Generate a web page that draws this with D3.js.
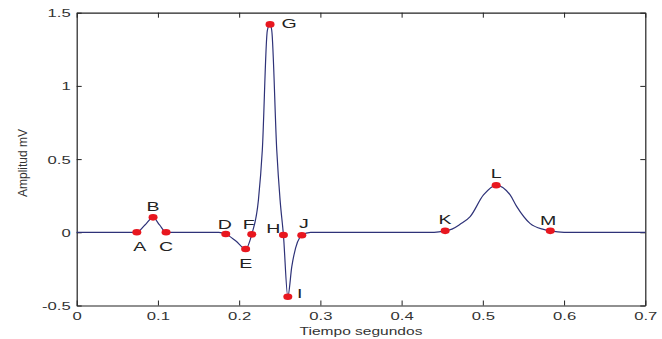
<!DOCTYPE html>
<html>
<head>
<meta charset="utf-8">
<script src="https://cdn.jsdelivr.net/npm/d3@7"></script>
<style>
  html, body { margin: 0; padding: 0; background: #fff; }
  svg { display: block; font-family: "Liberation Sans", Arial, sans-serif; }
</style>
</head>
<body>
<div id="chart"></div>
<script>
// ECG trace (seconds, mV)
const timeS = [0, 0.060, 0.074, 0.084, 0.094, 0.102, 0.110, 0.122, 0.175, 0.1835, 0.196, 0.208, 0.2155,
  0.2237, 0.2285, 0.2347, 0.238, 0.2401, 0.2463, 0.2504, 0.2545, 0.2599, 0.2648, 0.2771, 0.288,
  0.440, 0.4536, 0.462, 0.472, 0.4844, 0.5008, 0.5164, 0.5336, 0.5418, 0.558, 0.5747, 0.583, 0.600, 0.700];
const amplitudeMv = [0, 0, 0, 0.05, 0.102, 0.05, 0, 0, 0, -0.012, -0.06, -0.114, -0.014,
  0.22, 0.56, 1.38, 1.42, 1.38, 0.56, 0.22, -0.018, -0.44, -0.235, -0.02, 0,
  0, 0.01, 0.022, 0.055, 0.107, 0.255, 0.321, 0.255, 0.175, 0.061, 0.02, 0.01, 0, 0];

// marked points
const pointLabels = ['A', 'B', 'C', 'D', 'E', 'F', 'G', 'H', 'I', 'J', 'K', 'L', 'M'];
const pointTime = [0.074, 0.094, 0.110, 0.1835, 0.208, 0.2155, 0.238, 0.2545, 0.2599, 0.2771, 0.4536, 0.5164, 0.583];
const pointAmp = [0, 0.102, 0, -0.012, -0.114, -0.014, 1.42, -0.018, -0.44, -0.02, 0.01, 0.321, 0.01];

const xTicks = [0, 0.1, 0.2, 0.3, 0.4, 0.5, 0.6, 0.7];
const yTicks = [-0.5, 0, 0.5, 1, 1.5];

const W = 662, H = 339;
const plotLeft = 76.7, plotRight = 645.3, plotTop = 12.7, plotBottom = 305.5;
const SX = 1.45; // the picture is stretched sideways

const svg = d3.select('#chart').append('svg')
  .attr('width', W).attr('height', H);
svg.append('rect').attr('width', W).attr('height', H).attr('fill', '#fff');

const x = d3.scaleLinear().domain([0, 0.7]).range([plotLeft, plotRight]);
const y = d3.scaleLinear().domain([-0.5, 1.5]).range([plotBottom, plotTop]);

function styleAxis(g) {
  g.selectAll('path.domain').attr('stroke', '#222').attr('stroke-width', 1.2);
  g.selectAll('.tick line').attr('stroke', '#222').attr('stroke-width', 1);
}

// axes (box with inward ticks)
const gx = svg.append('g').attr('transform', `translate(0,${plotBottom})`)
  .call(d3.axisBottom(x).tickValues(xTicks).tickSize(-5).tickSizeOuter(0).tickFormat(d => String(d)))
  .call(styleAxis);
gx.selectAll('.tick text')
  .attr('y', 0).attr('dy', 0)
  .attr('transform', `translate(0,14) scale(${SX},1)`)
  .attr('fill', '#333').style('font-size', '11.5px');

const gy = svg.append('g').attr('transform', `translate(${plotLeft},0)`)
  .call(d3.axisLeft(y).tickValues(yTicks).tickSize(-5).tickSizeOuter(0).tickFormat(d => String(d)))
  .call(styleAxis);
gy.selectAll('.tick text')
  .attr('x', 0).attr('dy', 0)
  .attr('transform', `translate(-6,4) scale(${SX},1)`)
  .attr('fill', '#333').style('font-size', '11.5px');

svg.append('g').attr('transform', `translate(0,${plotTop})`)
  .call(d3.axisTop(x).tickValues(xTicks).tickSize(-5).tickSizeOuter(0).tickFormat(''))
  .call(styleAxis);
svg.append('g').attr('transform', `translate(${plotRight},0)`)
  .call(d3.axisRight(y).tickValues(yTicks).tickSize(-5).tickSizeOuter(0).tickFormat(''))
  .call(styleAxis);

// axis titles
svg.append('text')
  .attr('transform', `translate(${(plotLeft + plotRight) / 2},335) scale(${SX - 0.1},1)`)
  .attr('text-anchor', 'middle')
  .attr('fill', '#333').style('font-size', '11.5px')
  .text('Tiempo segundos');

svg.append('text')
  .attr('transform', 'translate(27,163) rotate(-90)')
  .attr('text-anchor', 'middle')
  .attr('fill', '#333').style('font-size', '12px')
  .text('Amplitud mV');

// trace
const trace = timeS.map((t, i) => [t, amplitudeMv[i]]);
const line = d3.line().x(d => x(d[0])).y(d => y(d[1])).curve(d3.curveMonotoneX);
svg.append('path')
  .datum(trace)
  .attr('d', line)
  .attr('fill', 'none')
  .attr('stroke', '#2e3278')
  .attr('stroke-width', 1.2);

// markers
const points = pointLabels.map((name, i) => ({ name, t: pointTime[i], v: pointAmp[i] }));
svg.selectAll('ellipse.pt')
  .data(points)
  .enter().append('ellipse')
  .attr('class', 'pt')
  .attr('cx', d => x(d.t)).attr('cy', d => y(d.v))
  .attr('rx', 4.5).attr('ry', 3.3)
  .attr('fill', '#e8171f');

// label offsets from each marker, in pixels
const labelOffset = {
  A: [3, 19], B: [0, -6], C: [0, 19], D: [-1, -5], E: [0, 19], F: [-3, -5], G: [19, 4],
  H: [-10, -2], I: [12, 1], J: [2, -7], K: [0, -7], L: [0, -7], M: [-2, -6]
};
svg.selectAll('text.pt-label')
  .data(points)
  .enter().append('text')
  .attr('class', 'pt-label')
  .attr('transform', d => {
    const o = labelOffset[d.name];
    return `translate(${x(d.t) + o[0]},${y(d.v) + o[1]}) scale(${SX},1)`;
  })
  .attr('text-anchor', 'middle')
  .attr('fill', '#222').style('font-size', '13.5px')
  .text(d => d.name);
</script>
</body>
</html>
